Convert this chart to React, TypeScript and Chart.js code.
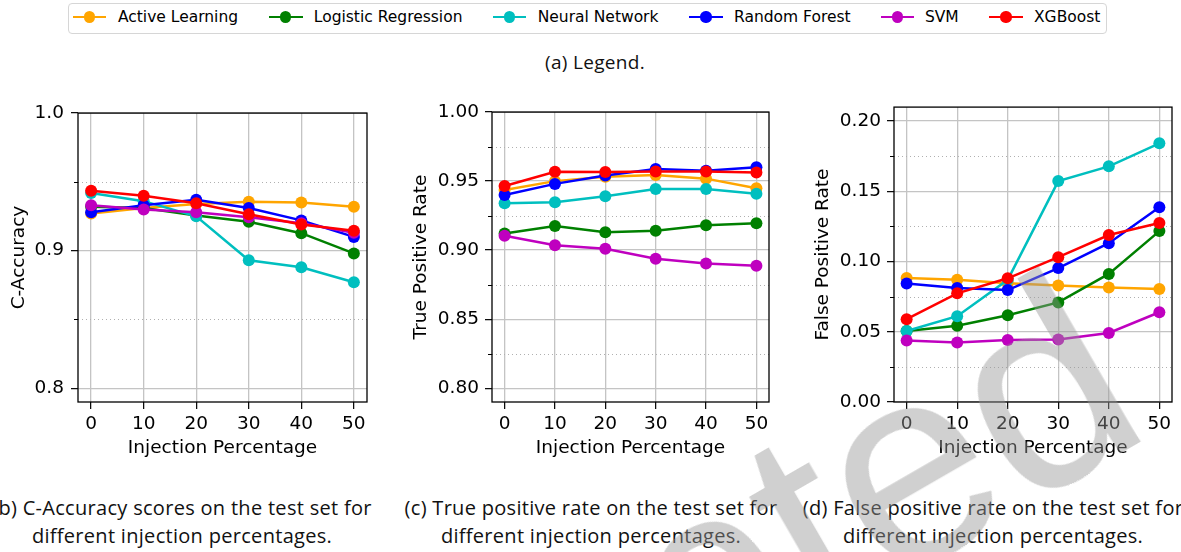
import React, { useEffect, useRef } from 'react';
import { Chart, registerables } from 'chart.js';

Chart.register(...registerables);

// ---------- data ----------
const injection = [0, 10, 20, 30, 40, 50];
const seriesNames = ['Active Learning', 'Logistic Regression', 'Neural Network', 'Random Forest', 'SVM', 'XGBoost'];
const seriesColors = ['#ffa500', '#008000', '#00bfbf', '#0000ff', '#bf00bf', '#ff0000'];

// (b) C-Accuracy
const accActive = [0.927, 0.931, 0.934, 0.9356, 0.935, 0.932];
const accLogistic = [0.932, 0.931, 0.9255, 0.921, 0.9127, 0.898];
const accNeural = [0.942, 0.936, 0.925, 0.893, 0.888, 0.877];
const accForest = [0.928, 0.933, 0.937, 0.931, 0.922, 0.91];
const accSvm = [0.933, 0.93, 0.928, 0.9243, 0.92, 0.913];
const accXgb = [0.9436, 0.94, 0.9344, 0.9265, 0.919, 0.9144];

// (c) True positive rate
const tprActive = [0.9436, 0.95, 0.9532, 0.9544, 0.9518, 0.9448];
const tprLogistic = [0.912, 0.9175, 0.913, 0.914, 0.918, 0.9194];
const tprNeural = [0.934, 0.9347, 0.939, 0.9443, 0.9443, 0.9408];
const tprForest = [0.94, 0.948, 0.954, 0.9587, 0.9575, 0.96];
const tprSvm = [0.9105, 0.9036, 0.901, 0.8937, 0.8904, 0.8887];
const tprXgb = [0.9465, 0.9568, 0.9566, 0.957, 0.957, 0.9563];

// (d) False positive rate
const fprActive = [0.0883, 0.087, 0.0845, 0.083, 0.0816, 0.0804];
const fprLogistic = [0.0506, 0.0543, 0.0618, 0.0709, 0.0912, 0.1217];
const fprNeural = [0.0506, 0.0611, 0.087, 0.1573, 0.1678, 0.1842];
const fprForest = [0.0844, 0.0811, 0.0797, 0.0954, 0.1131, 0.1387];
const fprSvm = [0.0438, 0.0424, 0.0441, 0.0445, 0.0492, 0.0639];
const fprXgb = [0.059, 0.0774, 0.0881, 0.1031, 0.1189, 0.1275];

// ticks
const xTicks = [0, 10, 20, 30, 40, 50];
const accTicks = [0.8, 0.9, 1.0];
const accMinor = [0.85, 0.95];
const tprTicks = [0.8, 0.85, 0.9, 0.95, 1.0];
const tprMinor = [0.825, 0.875, 0.925, 0.975];
const fprTicks = [0, 0.05, 0.1, 0.15, 0.2];
const fprMinor = [0.025, 0.075, 0.125, 0.175];

const xTitle = 'Injection Percentage';
const captionA = '(a) Legend.';
const captionB = ['(b) C-Accuracy scores on the test set for', 'different injection percentages.'];
const captionC = ['(c) True positive rate on the test set for', 'different injection percentages.'];
const captionD = ['(d) False positive rate on the test set for', 'different injection percentages.'];
const watermark = 'Accepted';

const FONT = 'DejaVu Sans';
const AX_FONT = 18.5;

const framePlugin = {
  id: 'frame',
  beforeDatasetsDraw(chart: any, _args: any, opts: any) {
    const { ctx, chartArea } = chart;
    const { left, right } = chartArea;
    const y = chart.scales.y;
    ctx.save();
    ctx.strokeStyle = '#b0b0b0';
    ctx.lineWidth = 1;
    ctx.setLineDash([1, 3]);
    for (const v of opts.minor || []) {
      const py = Math.round(y.getPixelForValue(v)) + 0.5;
      ctx.beginPath();
      ctx.moveTo(left, py);
      ctx.lineTo(right, py);
      ctx.stroke();
    }
    ctx.setLineDash([]);
    ctx.strokeStyle = '#000';
    ctx.lineWidth = 1;
    for (const v of opts.minor || []) {
      const py = Math.round(y.getPixelForValue(v)) + 0.5;
      ctx.beginPath();
      ctx.moveTo(left - 4, py);
      ctx.lineTo(left, py);
      ctx.stroke();
    }
    ctx.restore();
  },
  afterDraw(chart: any) {
    const { ctx, chartArea } = chart;
    ctx.save();
    ctx.strokeStyle = '#000';
    ctx.lineWidth = 1.3;
    ctx.strokeRect(chartArea.left, chartArea.top, chartArea.right - chartArea.left, chartArea.bottom - chartArea.top);
    ctx.restore();
  },
};

type PanelProps = {
  left: number; top: number; width: number; height: number;
  padTop: number; padRight: number; yWidth: number; xHeight: number;
  yTitle: string; yTitlePad: number; yTickPad: number;
  yMin: number; yMax: number; major: number[]; minor: number[]; dec: number;
  series: number[][];
};

function Panel(p: PanelProps) {
  const ref = useRef<HTMLCanvasElement>(null);
  useEffect(() => {
    if (!ref.current) return;
    const datasets = p.series.map((vals, i) => ({
      label: seriesNames[i],
      data: injection.map((x, j) => ({ x, y: vals[j] })),
      borderColor: seriesColors[i],
      backgroundColor: seriesColors[i],
      pointBackgroundColor: seriesColors[i],
      pointBorderColor: seriesColors[i],
      pointBorderWidth: 0,
      pointRadius: 6,
      borderWidth: 2.5,
      tension: 0,
      fill: false,
      order: seriesNames.length - 1 - i,
    }));
    const chart = new Chart(ref.current, {
      type: 'line',
      data: { datasets },
      options: {
        responsive: false,
        animation: false,
        devicePixelRatio: 1,
        layout: { padding: { left: 0, right: p.padRight, top: p.padTop, bottom: 0 } },
        plugins: {
          legend: { display: false },
          tooltip: { enabled: false },
          frame: { minor: p.minor },
        } as any,
        scales: {
          x: {
            type: 'linear',
            min: -2.5,
            max: 52.5,
            afterBuildTicks: (s: any) => { s.ticks = xTicks.map((v) => ({ value: v })); },
            afterFit: (s: any) => { s.height = p.xHeight; },
            ticks: { font: { family: FONT, size: AX_FONT }, color: '#000', padding: 4, maxRotation: 0, callback: (v: any) => String(v) },
            grid: { color: '#c4c4c4', lineWidth: 1.3, tickColor: '#000', tickLength: 7, tickWidth: 1.2 },
            border: { display: false },
            title: { display: true, text: xTitle, font: { family: FONT, size: AX_FONT }, color: '#000', padding: { top: 0, bottom: 6 } },
          },
          y: {
            type: 'linear',
            min: p.yMin,
            max: p.yMax,
            afterBuildTicks: (s: any) => { s.ticks = p.major.map((v) => ({ value: v })); },
            afterFit: (s: any) => { s.width = p.yWidth; },
            ticks: { font: { family: FONT, size: AX_FONT }, color: '#000', padding: p.yTickPad, callback: (v: any) => Number(v).toFixed(p.dec) },
            grid: { color: '#c4c4c4', lineWidth: 1.3, tickColor: '#000', tickLength: 7, tickWidth: 1.2 },
            border: { display: false },
            title: { display: true, text: p.yTitle, font: { family: FONT, size: AX_FONT }, color: '#000', padding: { top: p.yTitlePad, bottom: 0 } },
          },
        },
      } as any,
      plugins: [framePlugin],
    });
    return () => chart.destroy();
  }, []);
  return (
    <canvas
      ref={ref}
      width={p.width}
      height={p.height}
      style={{ position: 'absolute', left: p.left, top: p.top, width: p.width, height: p.height }}
    />
  );
}

const legendLines = [72.7, 269, 492.5, 689.2, 880.8, 989.3];
const legendTexts = [117.9, 313.8, 537.7, 734, 924.9, 1034];

const CAPTION_STYLE: React.CSSProperties = {
  position: 'absolute', textAlign: 'center', fontFamily: 'Open Sans', fontSize: 20, letterSpacing: 0.3,
  lineHeight: '26px', height: 26, color: '#111', whiteSpace: 'nowrap',
};

function Caption({ cx, lines }: { cx: number; lines: string[] }) {
  return (
    <>
      {lines.map((t, i) => (
        <div key={i} style={{ ...CAPTION_STYLE, left: cx - 300, width: 600, top: 495 + i * 28 }}>{t}</div>
      ))}
    </>
  );
}

export default function App() {
  return (
    <div style={{ position: 'fixed', left: 0, top: 0, width: 1181, height: 552, overflow: 'hidden', background: '#fff' }}>
      {/* legend */}
      <div style={{ position: 'absolute', left: 68, top: 3, width: 1039, height: 31, boxSizing: 'border-box', border: '1px solid #d6d6d6', borderRadius: 4 }} />
      {seriesNames.map((n, i) => (
        <React.Fragment key={n}>
          <div style={{ position: 'absolute', left: legendLines[i], top: 16, width: 33.5, height: 2.2, background: seriesColors[i] }} />
          <div style={{ position: 'absolute', left: legendLines[i] + 16.75 - 5.6, top: 17 - 5.6, width: 11.2, height: 11.2, borderRadius: '50%', background: seriesColors[i] }} />
          <div style={{ position: 'absolute', left: legendTexts[i], top: 6, height: 22, lineHeight: '22px', fontFamily: FONT, fontSize: 15.5, color: '#000', whiteSpace: 'nowrap' }}>{n}</div>
        </React.Fragment>
      ))}
      <div style={{ ...CAPTION_STYLE, fontSize: 19, left: 395, width: 400, top: 49 }}>{captionA}</div>

      <Panel left={0} top={95} width={380} height={370} padTop={14} padRight={13} yWidth={78} xHeight={63}
        yTitle="C-Accuracy" yTitlePad={8} yTickPad={7} yMin={0.79} yMax={1.0} major={accTicks} minor={accMinor} dec={1}
        series={[accActive, accLogistic, accNeural, accForest, accSvm, accXgb]} />
      <Panel left={400} top={95} width={380} height={370} padTop={14} padRight={11} yWidth={92} xHeight={63}
        yTitle="True Positive Rate" yTitlePad={10} yTickPad={6} yMin={0.79} yMax={1.0} major={tprTicks} minor={tprMinor} dec={2}
        series={[tprActive, tprLogistic, tprNeural, tprForest, tprSvm, tprXgb]} />
      <Panel left={790} top={90} width={391} height={375} padTop={12} padRight={9} yWidth={104} xHeight={63}
        yTitle="False Positive Rate" yTitlePad={22} yTickPad={6} yMin={0} yMax={0.21} major={fprTicks} minor={fprMinor} dec={2}
        series={[fprActive, fprLogistic, fprNeural, fprForest, fprSvm, fprXgb]} />

      <Caption cx={182} lines={captionB} />
      <Caption cx={591} lines={captionC} />
      <Caption cx={993} lines={captionD} />

      <div style={{
        position: 'absolute', left: 27, top: 811, transformOrigin: '0 0', transform: 'rotate(-30deg)',
        fontFamily: 'Liberation Sans', fontSize: 280, lineHeight: 1, whiteSpace: 'nowrap',
        color: 'rgba(150,150,150,0.45)', pointerEvents: 'none',
      }}>{watermark}</div>
    </div>
  );
}
